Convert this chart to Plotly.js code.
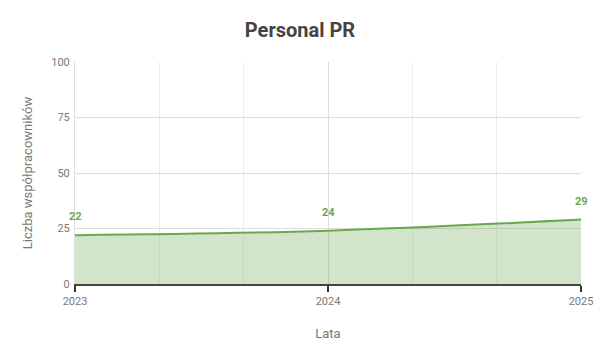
<!DOCTYPE html>
<html>
<head>
<meta charset="utf-8">
<script src="https://cdn.plot.ly/plotly-3.0.1.min.js"></script>
<style>html,body{margin:0;padding:0;background:#fff;}#chart{width:600px;height:360px;}</style>
</head>
<body>
<div id="chart"></div>
<script>
const years = [2023, 2024, 2025];
const values = [22, 24, 29];
const yTicks = [0, 25, 50, 75, 100];

const trace = {
  x: years,
  y: values,
  type: 'scatter',
  mode: 'lines',
  line: {color: '#6aa84f', width: 2, shape: 'spline'},
  fill: 'tozeroy',
  fillcolor: 'rgba(106,168,79,0.3)',
  cliponaxis: false,
  hoverinfo: 'x+y'
};

const labels = years.map((yr, i) => ({
  x: yr, y: values[i], xref: 'x', yref: 'y',
  text: '<b>' + values[i] + '</b>',
  showarrow: false, xanchor: 'center', yanchor: 'bottom', yshift: 10,
  font: {family: 'Roboto, sans-serif', size: 11, color: '#6aa84f'}
}));

const layout = {
  width: 600, height: 360,
  margin: {l: 75, r: 19, t: 62, b: 76},
  paper_bgcolor: '#fff', plot_bgcolor: '#fff',
  font: {family: 'Roboto, sans-serif', color: '#666'},
  title: {text: '<b>Personal PR</b>', font: {size: 20, color: '#444', family: 'Roboto, sans-serif'}, x: 0.5, xanchor: 'center', y: 0.935, yanchor: 'top'},
  showlegend: false,
  annotations: labels,
  xaxis: {
    range: [2023, 2025],
    tickvals: years,
    ticktext: years.map(String),
    tickfont: {size: 11, color: '#777'},
    showgrid: true, gridcolor: '#ddd',
    minor: {dtick: 1/3, tick0: 2023, showgrid: true, gridcolor: '#eee', ticklen: 0},
    showline: true, linecolor: '#444', linewidth: 1.5,
    ticks: 'outside', ticklen: 6, tickcolor: '#333', tickwidth: 1.5,
    zeroline: false,
    title: {text: 'Lata', font: {size: 13, color: '#777'}, standoff: 22}
  },
  yaxis: {
    range: [0, 100],
    tickvals: yTicks,
    tickfont: {size: 11, color: '#777'},
    showgrid: true, gridcolor: '#ddd',
    zeroline: false,
    showline: true, linecolor: '#ddd', linewidth: 1,
    ticks: '', ticklabelstandoff: 2,
    title: {text: 'Liczba współpracowników', font: {size: 13, color: '#777'}, standoff: 15}
  }
};

Plotly.newPlot('chart', [trace], layout, {displayModeBar: false, staticPlot: true});
</script>
</body>
</html>
